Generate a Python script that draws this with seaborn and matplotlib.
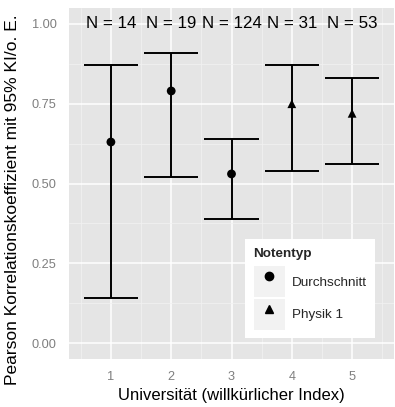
import matplotlib
matplotlib.use("Agg")
import matplotlib.pyplot as plt
from matplotlib.lines import Line2D
from matplotlib.patches import Rectangle
from matplotlib.legend_handler import HandlerTuple
from matplotlib.ticker import MultipleLocator
import seaborn as sns
import pandas as pd

universitaet = [1, 2, 3, 4, 5]
mittelwert = [0.63, 0.79, 0.53, 0.75, 0.72]
untere = [0.14, 0.52, 0.39, 0.54, 0.56]
obere = [0.87, 0.91, 0.64, 0.87, 0.83]
notentyp = ["Durchschnitt", "Durchschnitt", "Durchschnitt", "Physik 1", "Physik 1"]
anzahl = [14, 19, 124, 31, 53]

df = pd.DataFrame({
    "Universität": universitaet,
    "r": mittelwert,
    "lo": untere,
    "hi": obere,
    "Notentyp": notentyp,
    "N": anzahl,
})

sns.set_theme(style="darkgrid", rc={
    "axes.facecolor": "#E5E5E5",
    "grid.color": "white",
    "axes.edgecolor": "none",
})
plt.rcParams["font.family"] = ["Liberation Sans", "DejaVu Sans"]

fig = plt.figure(figsize=(3.95, 4.07), dpi=100)
ax = fig.add_axes([69 / 395, 1 - 359 / 407, 325 / 395, 351 / 407])

# error bars (ggplot geom_errorbar width 0.9)
ax.vlines(df["Universität"], df["lo"], df["hi"], color="black", lw=1.4, zorder=3)
ax.hlines(df["lo"], df["Universität"] - 0.45, df["Universität"] + 0.45,
          color="black", lw=1.4, zorder=3)
ax.hlines(df["hi"], df["Universität"] - 0.45, df["Universität"] + 0.45,
          color="black", lw=1.4, zorder=3)

markers = {"Durchschnitt": "o", "Physik 1": "^"}
sns.scatterplot(data=df, x="Universität", y="r", style="Notentyp", markers=markers,
                color="black", s=40, edgecolor="none", legend=False, ax=ax, zorder=4)

for _, row in df.iterrows():
    ax.text(row["Universität"], 1.0, f"N = {row['N']}", ha="center", va="center",
            fontsize=12.2, color="black", zorder=5)

ax.set_xlim(0.305, 5.695)
ax.set_ylim(-0.05, 1.05)
ax.set_xticks(universitaet)
ax.set_yticks([0.0, 0.25, 0.5, 0.75, 1.0])
ax.set_yticklabels(["0.00", "0.25", "0.50", "0.75", "1.00"])
ax.xaxis.set_minor_locator(MultipleLocator(0.5))
ax.yaxis.set_minor_locator(MultipleLocator(0.125))
ax.grid(which="major", color="white", lw=1.1)
ax.grid(which="minor", color="#F2F2F2", lw=0.5)
ax.set_axisbelow(True)

ax.tick_params(axis="both", which="major", length=4.5, width=1.1, color="#7F7F7F",
               labelcolor="#7F7F7F", labelsize=9.2, pad=4.5)
ax.tick_params(which="minor", length=0)
for side in ax.spines.values():
    side.set_visible(False)

ax.set_xlabel("Universität (willkürlicher Index)", fontsize=12, color="black", labelpad=3)
ax.set_ylabel("Pearson Korrelationskoeffizient mit 95% KI/o. E.", fontsize=12.5,
              color="black")
ax.yaxis.set_label_coords(-0.151, 0.455)

handles = []
for lab in ["Durchschnitt", "Physik 1"]:
    box = Rectangle((0, 0), 1, 1, facecolor="#F2F2F2", edgecolor="none")
    mk = Line2D([], [], marker=markers[lab], color="black", ls="none", markersize=6)
    handles.append((box, mk))

leg = ax.legend(handles, ["Durchschnitt", "Physik 1"], title="Notentyp",
                handler_map={tuple: HandlerTuple(ndivide=1, pad=0)},
                loc="lower right", bbox_to_anchor=(0.9415, 0.06), borderaxespad=0,
                fontsize=9.7, title_fontsize=9.7, frameon=True, fancybox=False,
                framealpha=1, facecolor="white", edgecolor="none",
                handlelength=2.35, handleheight=3.15, labelspacing=0.12,
                handletextpad=0.5, borderpad=0.6, alignment="left")
leg.get_title().set_fontweight("bold")
leg._legend_box.sep = 5

fig.savefig("out.png", dpi=100)
